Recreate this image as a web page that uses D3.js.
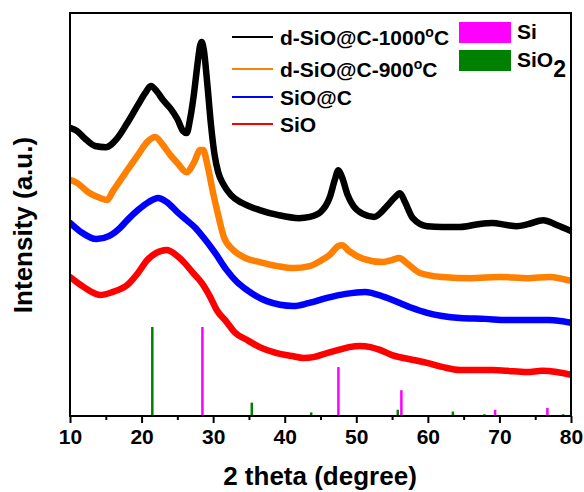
<!DOCTYPE html>
<html><head><meta charset="utf-8">
<script src="https://cdn.jsdelivr.net/npm/d3@7/dist/d3.min.js"></script>
<style>
body{margin:0;background:#fff;}
text{font-family:"Liberation Sans",Arial,sans-serif;font-weight:bold;fill:#000;}
</style></head>
<body>
<svg id="chart" width="584" height="492"></svg>
<script>
// ---- data ----
const seriesNames = ["d-SiO@C-1000°C", "d-SiO@C-900°C", "SiO@C", "SiO"];
const seriesColors = ["#000000", "#ff7f00", "#0000ff", "#ff0000"];

const blackTheta = [10,11,12,13.5,15,16.5,18,19.5,20.5,21.3,22.2,23,24,25,25.8,26.3,26.8,27.3,27.8,28.2,28.4,28.7,29.2,29.7,30.2,30.7,31.4,32.5,34,36.5,39,42,43.5,45,46.3,47,47.5,48,48.8,49.6,51,52.5,54.3,55.3,56.1,56.8,57.9,59.9,62,64.5,67,69,71,72.4,74,76.1,78,80];
const blackInt   = [71.5,70.7,69.0,67.0,66.7,68.7,72.7,77.2,80.1,81.9,80.4,78.4,76.4,73.7,70.7,70.2,73.9,79.7,87.1,92.1,92.8,90.8,82.1,72.2,64.8,60.5,57.6,54.8,52.9,51.1,49.9,49.1,49.4,50.6,54.3,58.6,61.0,59.3,54.8,52.1,50.1,49.4,52.1,54.1,55.3,53.1,49.1,47.1,46.9,46.9,47.6,47.9,47.4,47.1,47.6,48.6,47.4,45.9];

const orangeTheta = [10,11,12.5,14.2,15.2,16,18,19.5,20.8,21.9,23,24,25,26.3,27.3,28.2,28.6,29.2,30,30.7,31.5,32.8,34.5,36.5,39,41.2,43.5,45,46.3,47.5,48,49,51,53.7,55,56,57,58.9,62,66,70,74,77,80];
const orangeInt   = [58.6,57.8,55.6,54.1,53.6,55.8,61.0,64.8,68.0,69.2,67.2,64.8,62.8,60.5,62.8,66.0,66.0,62.3,55.3,49.9,44.4,41.2,39.2,38.2,37.2,36.7,37.2,38.5,40.0,42.2,42.4,40.9,39.0,38.2,38.7,39.2,38.0,35.5,34.5,34.2,34.5,34.2,34.5,33.5];

const blueTheta = [10,11.5,13.7,15.5,17,18,19.5,21,22.3,23.5,25,26.3,27.5,28.6,30.3,31.9,33.3,34.7,37.5,41.2,43.3,45.9,48.5,51.2,54,57.5,59.9,62,64.5,68,71,74,77,80];
const blueInt   = [47.9,45.7,43.9,44.7,46.7,48.6,51.1,53.1,54.1,53.1,50.6,48.6,46.7,44.4,40.4,36.2,33.3,31.3,28.5,27.3,28.0,29.3,30.3,30.8,29.5,27.0,25.6,24.8,24.3,24.1,23.8,23.8,23.8,23.1];

const redTheta = [10,11.5,13,14.2,16,18,19.5,20.8,22,23.5,25,26,27.2,28.5,29.6,30.5,31.9,33,34.7,36.5,38.9,41,42.6,44,45.9,47.5,49,50.5,52,53.3,55,56.6,58,59.9,62,64.5,67,69.1,71,73.8,76,78,80];
const redInt   = [34.5,32.5,30.8,30.0,30.8,32.5,35.5,38.7,40.4,41.2,39.7,38.0,35.5,32.8,29.5,26.3,23.3,20.8,18.9,17.1,15.6,14.9,14.4,14.6,15.6,16.4,17.1,17.4,17.1,16.4,15.1,14.4,13.9,13.2,12.2,11.4,11.4,11.4,11.2,10.9,11.2,10.9,10.2];

// reference patterns (relative intensity)
const siTheta = [28.5,47.5,56.3,59.1,69.4,76.7];
const siInt   = [100,55,29,1,7,9];
const sio2Theta = [21.5,35.4,41.7,43.7,50.9,55.8,63.5,67.9,74.8,78.9];
const sio2Int   = [100,15,1,4,1,7,5,2,1,2];

const xTicks = [10,20,30,40,50,60,70,80];
const xMinorTicks = [15,25,35,45,55,65,75];

// ---- layout ----
const L = 70, R = 571, T = 13, B = 416;
const svg = d3.select("#chart");
const x = d3.scaleLinear().domain([10,80]).range([L,R]);
const y = d3.scaleLinear().domain([0,100]).range([B,T]);
const yRef = d3.scaleLinear().domain([0,100]).range([B, B-89]);

svg.append("clipPath").attr("id","clip").append("rect")
  .attr("x",L).attr("y",T).attr("width",R-L).attr("height",B-T);

const plot = svg.append("g").attr("clip-path","url(#clip)");

// reference bars
function bars(th, vals, color){
  plot.selectAll(null).data(th.map((t,i)=>({t,v:vals[i]}))).enter().append("rect")
    .attr("x", d=>x(d.t)-1.25).attr("width",2.5)
    .attr("y", d=>yRef(d.v)).attr("height", d=>B-yRef(d.v))
    .attr("fill", color);
}
bars(sio2Theta, sio2Int, "#008000");
bars(siTheta, siInt, "#ff00ff");

// curves
const line = d3.line().x(d=>x(d[0])).y(d=>y(d[1])).curve(d3.curveMonotoneX);
const allSeries = [
  [redTheta, redInt, seriesColors[3]],
  [blueTheta, blueInt, seriesColors[2]],
  [orangeTheta, orangeInt, seriesColors[1]],
  [blackTheta, blackInt, seriesColors[0]]
];
allSeries.forEach(([th, v, c])=>{
  plot.append("path").datum(th.map((t,i)=>[t,v[i]]))
    .attr("d", line).attr("fill","none").attr("stroke", c)
    .attr("stroke-width", 6.5).attr("stroke-linejoin","round").attr("stroke-linecap","round");
});

// axis
const xAxis = d3.axisBottom(x).tickValues(xTicks).tickSize(7).tickPadding(6).tickFormat(d3.format("d"));
const gx = svg.append("g").attr("transform",`translate(0,${B})`).call(xAxis);
gx.select(".domain").remove();
gx.selectAll("line").attr("stroke","#000").attr("stroke-width",2);
gx.selectAll("text").attr("font-size",21).attr("font-family","Liberation Sans, Arial, sans-serif").attr("font-weight","bold").attr("fill","#000");
const xMinor = d3.axisBottom(x).tickValues(xMinorTicks).tickSize(4).tickFormat("");
const gm = svg.append("g").attr("transform",`translate(0,${B})`).call(xMinor);
gm.select(".domain").remove();
gm.selectAll("line").attr("stroke","#000").attr("stroke-width",2);

// frame
svg.append("rect").attr("x",L).attr("y",T).attr("width",R-L).attr("height",B-T)
  .attr("fill","none").attr("stroke","#000").attr("stroke-width",2);

// axis labels
svg.append("text").attr("x",320).attr("y",485).attr("text-anchor","middle")
  .attr("font-size",26).text("2 theta (degree)");
svg.append("text").attr("transform","translate(32,225) rotate(-90)").attr("text-anchor","middle")
  .attr("font-size",26).text("Intensity (a.u.)");

// legend for series
const legY = [45,77,105,132];
seriesNames.forEach((n,i)=>{
  svg.append("line").attr("x1",232).attr("x2",273).attr("y1",legY[i]-8).attr("y2",legY[i]-8)
    .attr("stroke",seriesColors[i]).attr("stroke-width",2);
  const t = svg.append("text").attr("x",280).attr("y",legY[i]).attr("font-size",21);
  const m = n.match(/^(.*)°(C)$/);
  if(m){
    t.append("tspan").text(m[1]);
    t.append("tspan").attr("font-size",14).attr("dy",-8).text("o");
    t.append("tspan").attr("dy",8).text("C");
  } else t.text(n);
});

// legend for reference patterns
svg.append("rect").attr("x",459).attr("y",22).attr("width",52).attr("height",21).attr("fill","#ff00ff");
svg.append("rect").attr("x",459).attr("y",50).attr("width",52).attr("height",21).attr("fill","#008000");
svg.append("text").attr("x",517).attr("y",39).attr("font-size",21).text("Si");
const t2 = svg.append("text").attr("x",517).attr("y",67).attr("font-size",21);
t2.append("tspan").text("SiO");
t2.append("tspan").attr("dy",10).attr("font-size",23).text("2");
</script>
</body></html>
